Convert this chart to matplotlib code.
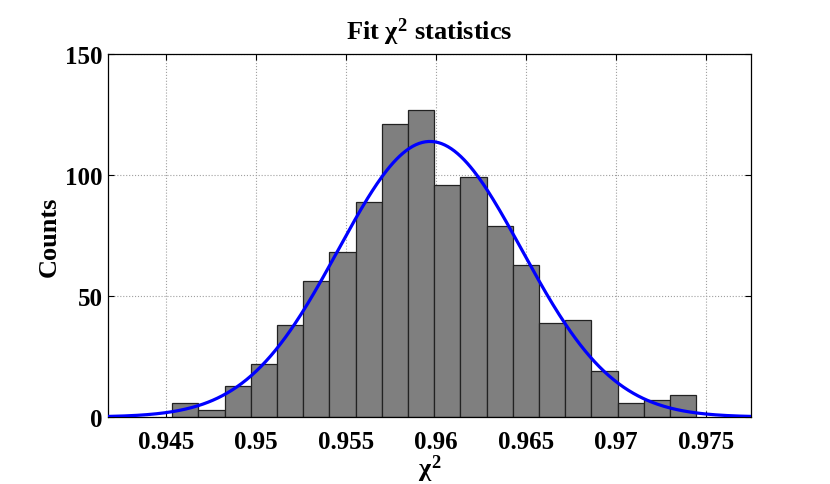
import numpy as np
import matplotlib
matplotlib.use('Agg')
import matplotlib.pyplot as plt

# histogram data ##################################
bin_start = 0.94535
bin_width = 0.0014556
counts = [6, 3, 13, 22, 38, 56, 68, 89, 121, 127,
          96, 99, 79, 63, 39, 40, 19, 6, 7, 9]
# gaussian fit parameters
fit_mu = 0.95967
fit_sigma = 0.0051
xlim = (0.94178, 0.9775)
xticks = [0.945, 0.95, 0.955, 0.96, 0.965, 0.97, 0.975]
xticklabels = ['0.945', '0.95', '0.955', '0.96', '0.965', '0.97', '0.975']
yticks = [0, 50, 100, 150]
###################################################

plt.rcParams['font.family'] = 'Liberation Serif'
plt.rcParams['font.weight'] = 'bold'
plt.rcParams['mathtext.fontset'] = 'custom'
plt.rcParams['mathtext.rm'] = 'Liberation Serif:bold'
plt.rcParams['mathtext.it'] = 'Liberation Serif:bold'
plt.rcParams['mathtext.bf'] = 'Liberation Serif:bold'

fig = plt.figure(figsize=(8.3, 4.85), dpi=100)
ax = fig.add_axes([0.1301, 0.1381, 0.7747, 0.7485])

edges = bin_start + bin_width * np.arange(len(counts) + 1)
ax.bar(edges[:-1], counts, width=bin_width, align='edge',
       color='#7f7f7f', edgecolor='#222222', linewidth=0.9, zorder=2)

x = np.linspace(xlim[0], xlim[1], 400)
amp = sum(counts) * bin_width / (fit_sigma * np.sqrt(2 * np.pi))
y = amp * np.exp(-0.5 * ((x - fit_mu) / fit_sigma) ** 2)
ax.plot(x, y, color='#0000ff', linewidth=2.3, zorder=3)

ax.set_xlim(*xlim)
ax.set_ylim(0, 150)
ax.set_xticks(xticks)
ax.set_xticklabels(xticklabels)
ax.set_yticks(yticks)
ax.tick_params(direction='in', top=True, right=True, length=4,
               labelsize=18, width=0.8)
ax.tick_params(axis='x', pad=9)
ax.tick_params(axis='y', pad=4)
ax.grid(True, linestyle=':', color='#a0a0a0', linewidth=0.8, zorder=0)
ax.set_axisbelow(True)
for s in ax.spines.values():
    s.set_linewidth(0.9)

ax.set_title(r'Fit $\chi^2$ statistics', fontsize=19, fontweight='bold', pad=11)
ax.set_xlabel(r'$\chi^2$', fontsize=19, labelpad=0)
ax.set_ylabel('Counts', fontsize=19, fontweight='bold', labelpad=3)

fig.savefig('out.png', dpi=100)
